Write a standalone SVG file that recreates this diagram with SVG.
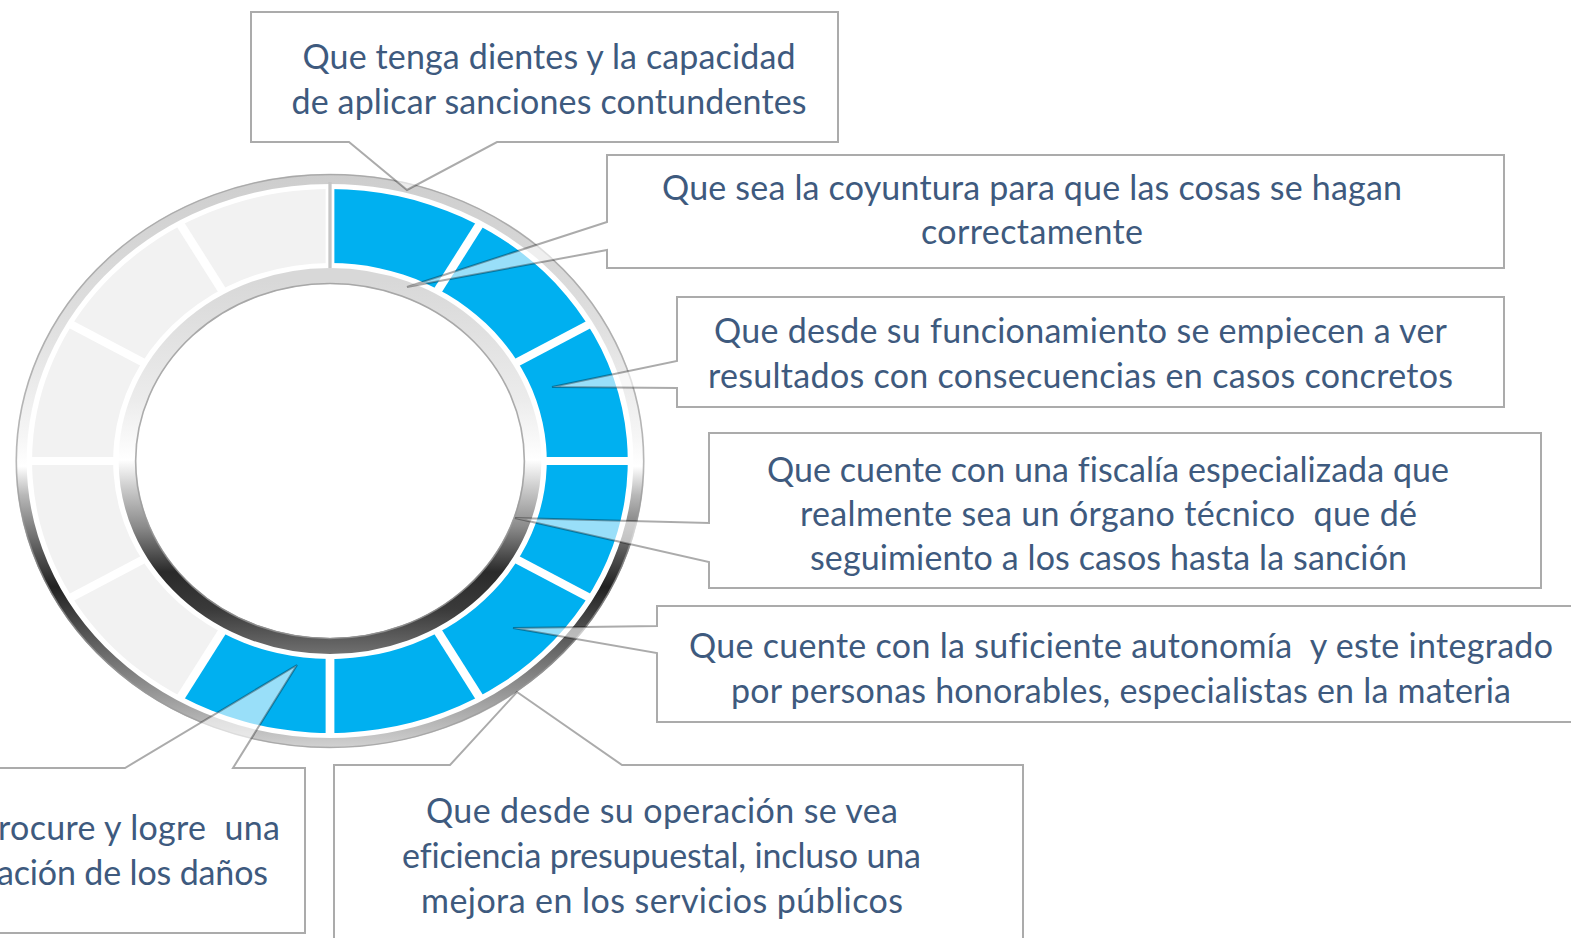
<svg xmlns="http://www.w3.org/2000/svg" width="1571" height="938" viewBox="0 0 1571 938">
<defs>
<style>
.co{fill:#fff;fill-opacity:0.6;stroke:#000;stroke-opacity:0.33;stroke-width:2;stroke-linejoin:miter}
.t{font-family:Lato,"Open Sans","Liberation Sans",sans-serif;font-size:34px;fill:#3E5A7E;text-anchor:middle;font-variant-ligatures:none;font-feature-settings:"liga" 0}
.dv{stroke:#fff;stroke-width:8}
</style>
<linearGradient id="gOut" gradientUnits="userSpaceOnUse" x1="0" y1="-288" x2="0" y2="287">
<stop offset="0" stop-color="#cdcdcd"/>
<stop offset="0.27" stop-color="#e0e0e0"/>
<stop offset="0.46" stop-color="#f6f6f6"/>
<stop offset="0.51" stop-color="#ffffff"/>
<stop offset="0.56" stop-color="#b8b8b8"/>
<stop offset="0.66" stop-color="#555555"/>
<stop offset="0.72" stop-color="#222222"/>
<stop offset="0.81" stop-color="#5a5a5a"/>
<stop offset="0.91" stop-color="#9a9a9a"/>
<stop offset="1" stop-color="#d2d2d2"/>
</linearGradient>
<linearGradient id="gIn" gradientUnits="userSpaceOnUse" x1="0" y1="-180" x2="0" y2="193">
<stop offset="0" stop-color="#d8d8d8"/>
<stop offset="0.32" stop-color="#ececec"/>
<stop offset="0.48" stop-color="#ffffff"/>
<stop offset="0.55" stop-color="#cfcfcf"/>
<stop offset="0.66" stop-color="#8a8a8a"/>
<stop offset="0.78" stop-color="#2a2a2a"/>
<stop offset="0.88" stop-color="#3a3a3a"/>
<stop offset="1" stop-color="#707070"/>
</linearGradient>
</defs>
<rect width="1571" height="938" fill="#fff"/>
<g id="ring" transform="translate(330,461) scale(1.095,1)">
<circle r="282" fill="none" stroke="url(#gOut)" stroke-width="10"/>
<circle r="286.5" fill="none" stroke="#9a9a9a" stroke-opacity="0.7" stroke-width="1.5"/>
<circle r="185" fill="none" stroke="url(#gIn)" stroke-width="16"/>
<circle r="177.5" fill="none" stroke="#9a9a9a" stroke-opacity="0.8" stroke-width="1.5"/>
<path d="M0,-272 A272,272 0 1 1 -136,235.6 L-99,171.5 A198,198 0 1 0 0,-198 Z" fill="#00b0f0"/>
<path d="M-136,235.6 A272,272 0 0 1 0,-272 L0,-198 A198,198 0 0 0 -99,171.5 Z" fill="#f2f2f2"/>
<g class="dv">
<line x1="0" y1="-276" x2="0" y2="-194"/>
<line x1="138" y1="-239" x2="97" y2="-168"/>
<line x1="239" y1="-138" x2="168" y2="-97"/>
<line x1="276" y1="0" x2="194" y2="0"/>
<line x1="239" y1="138" x2="168" y2="97"/>
<line x1="138" y1="239" x2="97" y2="168"/>
<line x1="0" y1="276" x2="0" y2="194"/>
<line x1="-138" y1="239" x2="-97" y2="168"/>
<line x1="-239" y1="138" x2="-168" y2="97"/>
<line x1="-276" y1="0" x2="-194" y2="0"/>
<line x1="-239" y1="-138" x2="-168" y2="-97"/>
<line x1="-138" y1="-239" x2="-97" y2="-168"/>
</g>
<line x1="0" y1="-279" x2="0" y2="-193" stroke="#c6c6c6" stroke-width="3"/>
</g>
<g id="connectors"/>
<g id="n1">
<path class="co" d="M251,12 H838 V142 H497 L407,190 L349,142 H251 Z"/>
<text class="t" x="549" y="68.5" textLength="493">Que tenga dientes y la capacidad</text>
<text class="t" x="549" y="113.5" textLength="515">de aplicar sanciones contundentes</text>
</g>
<g id="n2">
<path class="co" d="M607,155 H1504 V268 H607 V250 L407,287 L607,222 Z"/>
<text class="t" x="1032" y="199.5" textLength="740">Que sea la coyuntura para que las cosas se hagan</text>
<text class="t" x="1032" y="243.5" textLength="222">correctamente</text>
</g>
<g id="n3">
<path class="co" d="M677,297 H1504 V407 H677 V388 L552,387 L677,361 Z"/>
<text class="t" x="1080.5" y="342.5" textLength="733">Que desde su funcionamiento se empiecen a ver</text>
<text class="t" x="1080.5" y="387.5" textLength="745">resultados con consecuencias en casos concretos</text>
</g>
<g id="n4">
<path class="co" d="M709,433 H1541 V588 H709 V562 L515,518 L709,523 Z"/>
<text class="t" x="1108" y="482" textLength="682">Que cuente con una fiscalía especializada que</text>
<text class="t" x="1108.5" y="526" textLength="617" xml:space="preserve">realmente sea un órgano técnico  que dé</text>
<text class="t" x="1108.5" y="570" textLength="597">seguimiento a los casos hasta la sanción</text>
</g>
<g id="n5">
<path class="co" d="M657,606 H1580 V722 H657 V653 L513,628 L657,626 Z"/>
<text class="t" x="1121" y="658" textLength="864" xml:space="preserve">Que cuente con la suficiente autonomía  y este integrado</text>
<text class="t" x="1121" y="703" textLength="780">por personas honorables, especialistas en la materia</text>
</g>
<g id="n6">
<path class="co" d="M334,765 H450 L517,692 L622,765 H1023 V950 H334 Z"/>
<text class="t" x="662" y="823" textLength="472">Que desde su operación se vea</text>
<text class="t" x="661.5" y="868" textLength="519">eficiencia presupuestal, incluso una</text>
<text class="t" x="662" y="913" textLength="482">mejora en los servicios públicos</text>
</g>
<g id="n7">
<path class="co" d="M-10,768 H125 L297,665 L233,768 H305 V933 H-10 Z"/>
<text class="t" x="280" y="840" style="text-anchor:end" textLength="282" xml:space="preserve">rocure y logre  una</text>
<text class="t" x="268" y="885" style="text-anchor:end" textLength="271">ación de los daños</text>
</g>
</svg>
